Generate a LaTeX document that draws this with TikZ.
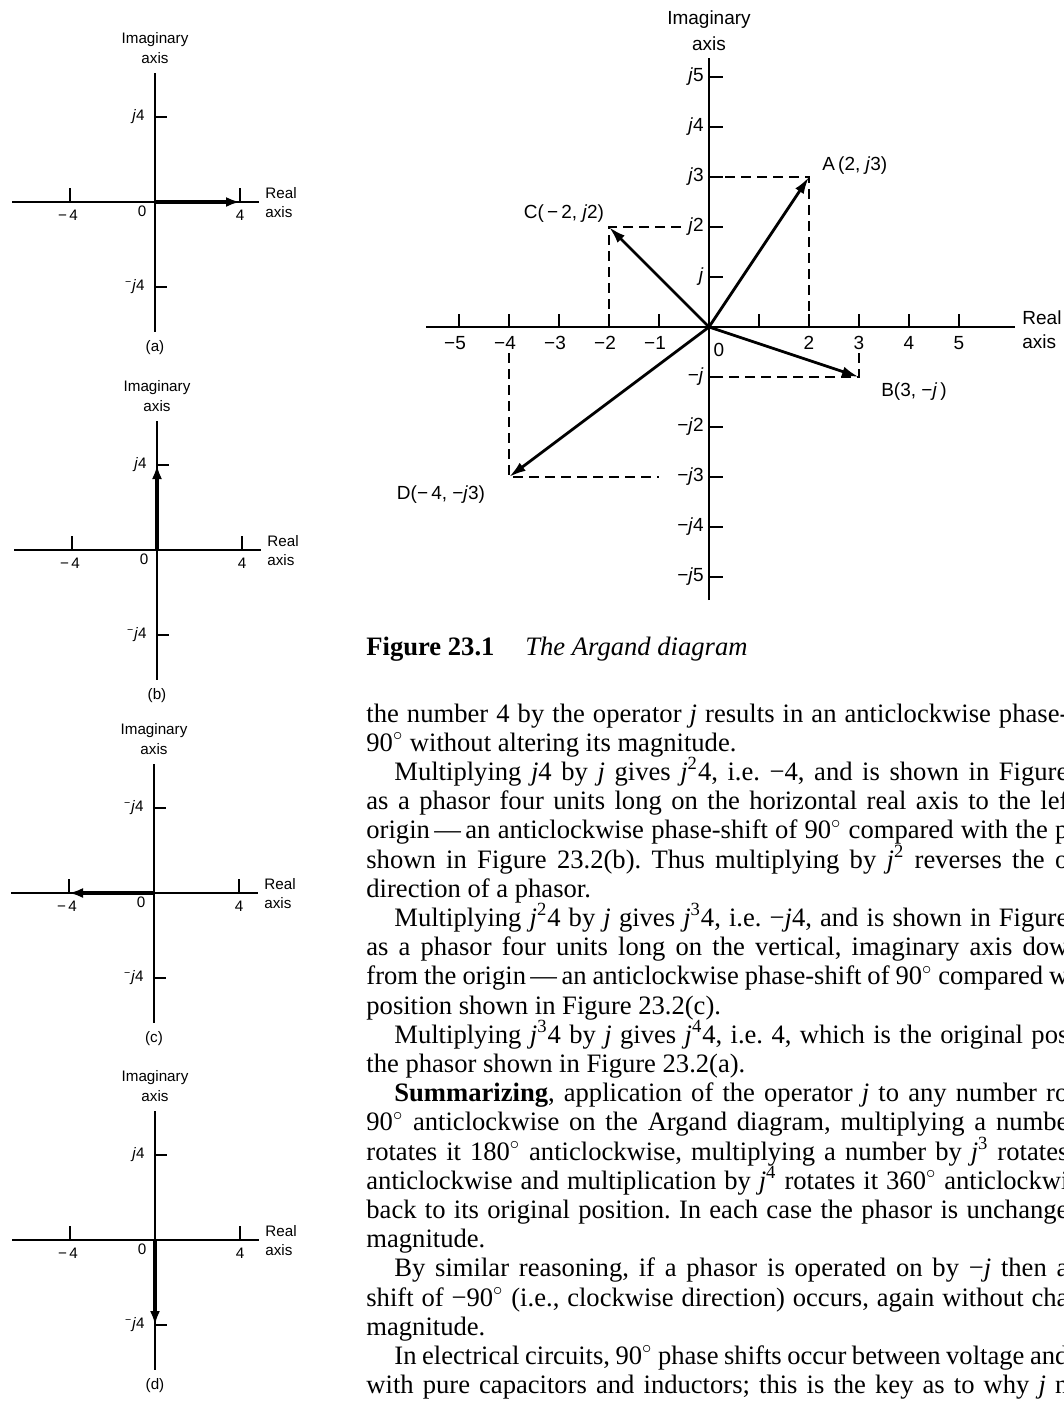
\documentclass[tikz,border=0pt]{standalone}
\usepackage{fontspec}
\setmainfont{Liberation Serif}
\newfontfamily\figsans{Liberation Sans}
\usetikzlibrary{arrows.meta}

\newcommand{\opj}{\textit{j}}
\newcommand{\fullline}[1]{\makebox[351pt][s]{#1}}
\newcommand{\indline}[1]{\makebox[337pt][s]{#1}}

\begin{document}
\begin{tikzpicture}[x=0.5pt,y=-0.5pt,
    axisline/.style={line width=0.8pt},
    smallphasor/.style={line width=2pt,-{Latex[length=7pt,width=5pt]}},
    bigaxis/.style={line width=1pt},
    phasor/.style={line width=1.4pt,-{Latex[length=8.5pt,width=5pt]}},
    proj/.style={line width=0.7pt,dash pattern=on 5pt off 3pt},
    smalllab/.style={font=\figsans\fontsize{7.6}{8.5}\selectfont,inner sep=0pt},
    biglab/.style={font=\figsans\fontsize{9.5}{11}\selectfont,inner sep=0pt},
    textline/.style={anchor=base west,inner sep=0pt,font=\fontsize{13.3}{14.6}\selectfont\frenchspacing}]

\useasboundingbox (0,0) rectangle (1064,1405);
\clip (0,0) rectangle (1064,1405);

% Small phasor diagrams (a)-(d)
\foreach \n/\ox/\oy/\top/\tx/\ty in {a/155/202/{\opj4}/85/0, b/157/550/{\opj4}/0/-85,
    c/154/893/{\textsuperscript{−}\opj4}/-85/0, d/155/1240/{\opj4}/0/85} {
  \begin{scope}[shift={(\ox,\oy)}]
    \coordinate (o\n) at (0,0);
    \coordinate (tip\n) at (\tx,\ty);
    \draw[axisline] (-143,0) -- (104,0);
    \draw[axisline] (0,-129) -- (0,130);
    \foreach \t in {-85,85} {
      \draw[axisline] (\t,0) -- (\t,-14);
      \draw[axisline] (0,\t) -- (12,\t);
    }
    \node[smalllab] (im\n) at (0,-162) {Imaginary};
    \node[smalllab] (ia\n) at (0,-144) {axis};
    \node[smalllab,anchor=east] (up\n) at (-10,-85) {\top};
    \node[smalllab,anchor=east] (dn\n) at (-10,85) {\textsuperscript{−}\opj4};
    \node[smalllab] (mf\n) at (-87,13) {−\,4};
    \node[smalllab] (zr\n) at (-13,9) {0};
    \node[smalllab] (pf\n) at (85,13) {4};
    \node[smalllab,anchor=west] (re\n) at (110,-9) {Real};
    \node[smalllab,anchor=west] (ax\n) at (110,10) {axis};
    \node[smalllab] (cap\n) at (0,146) {(\n)};
    \draw[smallphasor] (o\n) -- (tip\n);
  \end{scope}
}

% The Argand diagram
\begin{scope}[shift={(709,327)},x=25pt,y=25pt]
  \coordinate (O) at (0,0);
  \draw[bigaxis] (-5.66,0) -- (6.12,0);
  \draw[bigaxis] (0,-5.46) -- (0,5.38);
  \foreach \t in {-5,...,-1,1,2,...,5} {
    \draw[bigaxis] (\t,0) -- (\t,0.27);
    \draw[bigaxis] (0,\t) -- (0.28,\t);
  }
  \foreach \s in {1,...,5}
    \node[biglab] (rlm\s) at (-\s-0.08,-0.32) {−\s};
  \foreach \t in {2,...,5}
    \node[biglab] (rlp\t) at (\t,-0.32) {\t};
  \node[biglab] (zero) at (0.2,-0.46) {0};
  \node[biglab,anchor=east] (ilp1) at (-0.1,1) {\opj};
  \node[biglab,anchor=east] (ilm1) at (-0.1,-1) {−\opj};
  \foreach \t in {2,...,5} {
    \node[biglab,anchor=east] (ilp\t) at (-0.1,\t) {\opj\t};
    \node[biglab,anchor=east] (ilm\t) at (-0.1,-\t) {−\opj\t};
  }
  \node[biglab] (imag) at (0,6.14) {Imaginary};
  \node[biglab] (imaxis) at (0,5.66) {axis};
  \node[biglab,anchor=west] (real) at (6.26,0.18) {Real};
  \node[biglab,anchor=west] (reaxis) at (6.26,-0.3) {axis};

  % phasor tips and their projections
  \coordinate (A) at (2,3);
  \coordinate (B) at (3,-1);
  \coordinate (C) at (-2,2);
  \coordinate (D) at (-4,-3);
  \coordinate (A0) at (2,0);
  \coordinate (Aj) at (0,3);
  \coordinate (B0) at (3,-0.52);
  \coordinate (Bj) at (0,-1);
  \coordinate (C0) at (-2,0);
  \coordinate (Cj) at (-0.56,2);
  \coordinate (D0) at (-4,-0.52);
  \coordinate (Dj) at (-1,-3);
  \draw[proj] (Aj) -- (A) -- (A0);
  \draw[proj] (B0) -- (B) -- (Bj);
  \draw[proj] (Cj) -- (C) -- (C0);
  \draw[proj] (D0) -- (D) -- (Dj);
  \draw[phasor] (O) -- (A);
  \draw[phasor] (O) -- (B);
  \draw[phasor] (O) -- (C);
  \draw[phasor] (O) -- (D);
  \node[biglab,anchor=west] (Alab) at (2.26,3.22) {A\,(2, \opj3)};
  \node[biglab] (Blab) at (4.1,-1.3) {B(3, −\opj\,)};
  \node[biglab] (Clab) at (-2.9,2.26) {C(\,−\,2, \opj2)};
  \node[biglab] (Dlab) at (-5.36,-3.36) {D(−\,4, −\opj3)};
\end{scope}

% Caption
\node[textline] (figno) at (366,655) {\textbf{Figure 23.1}};
\node[textline] (figtitle) at (525,655) {\textit{The Argand diagram}};

% Body text
\node[textline] (l1) at (366,722) {\fullline{the number 4 by the operator \opj{} results in an anticlockwise phase-}};
\node[textline] (l2) at (366,751.2) {90$^\circ$ without altering its magnitude.};
\node[textline] (l3) at (394,780.4) {\indline{Multiplying \opj4 by \opj{} gives \opj\textsuperscript{2}4, i.e. −4, and is shown in Figure}};
\node[textline] (l4) at (366,809.6) {\fullline{as a phasor four units long on the horizontal real axis to the lef}};
\node[textline] (l5) at (366,838.8) {\fullline{origin\,—\,an anticlockwise phase-shift of 90$^\circ$ compared with the p}};
\node[textline] (l6) at (366,868) {\fullline{shown in Figure 23.2(b). Thus multiplying by \opj\textsuperscript{2} reverses the o}};
\node[textline] (l7) at (366,897.2) {direction of a phasor.};
\node[textline] (l8) at (394,926.4) {\indline{Multiplying \opj\textsuperscript{2}4 by \opj{} gives \opj\textsuperscript{3}4, i.e. −\opj4, and is shown in Figure}};
\node[textline] (l9) at (366,955.6) {\fullline{as a phasor four units long on the vertical, imaginary axis dow}};
\node[textline] (l10) at (366,984.8) {\fullline{from the origin\,—\,an anticlockwise phase-shift of 90$^\circ$ compared w}};
\node[textline] (l11) at (366,1014) {position shown in Figure 23.2(c).};
\node[textline] (l12) at (394,1043.2) {\indline{Multiplying \opj\textsuperscript{3}4 by \opj{} gives \opj\textsuperscript{4}4, i.e. 4, which is the original pos}};
\node[textline] (l13) at (366,1072.4) {the phasor shown in Figure 23.2(a).};
\node[textline] (l14) at (394,1101.6) {\indline{\textbf{Summarizing}, application of the operator \opj{} to any number ro}};
\node[textline] (l15) at (366,1130.8) {\fullline{90$^\circ$ anticlockwise on the Argand diagram, multiplying a numbe}};
\node[textline] (l16) at (366,1160) {\fullline{rotates it 180$^\circ$ anticlockwise, multiplying a number by \opj\textsuperscript{3} rotates}};
\node[textline] (l17) at (366,1189.2) {\fullline{anticlockwise and multiplication by \opj\textsuperscript{4} rotates it 360$^\circ$ anticlockwi}};
\node[textline] (l18) at (366,1218.4) {\fullline{back to its original position. In each case the phasor is unchange}};
\node[textline] (l19) at (366,1247.6) {magnitude.};
\node[textline] (l20) at (394,1276.8) {\indline{By similar reasoning, if a phasor is operated on by −\opj{} then a}};
\node[textline] (l21) at (366,1306) {\fullline{shift of −90$^\circ$ (i.e., clockwise direction) occurs, again without cha}};
\node[textline] (l22) at (366,1335.2) {magnitude.};
\node[textline] (l23) at (394,1364.4) {\indline{In electrical circuits, 90$^\circ$ phase shifts occur between voltage and}};
\node[textline] (l24) at (366,1393.6) {\fullline{with pure capacitors and inductors; this is the key as to why \opj{} n}};

\end{tikzpicture}
\end{document}
